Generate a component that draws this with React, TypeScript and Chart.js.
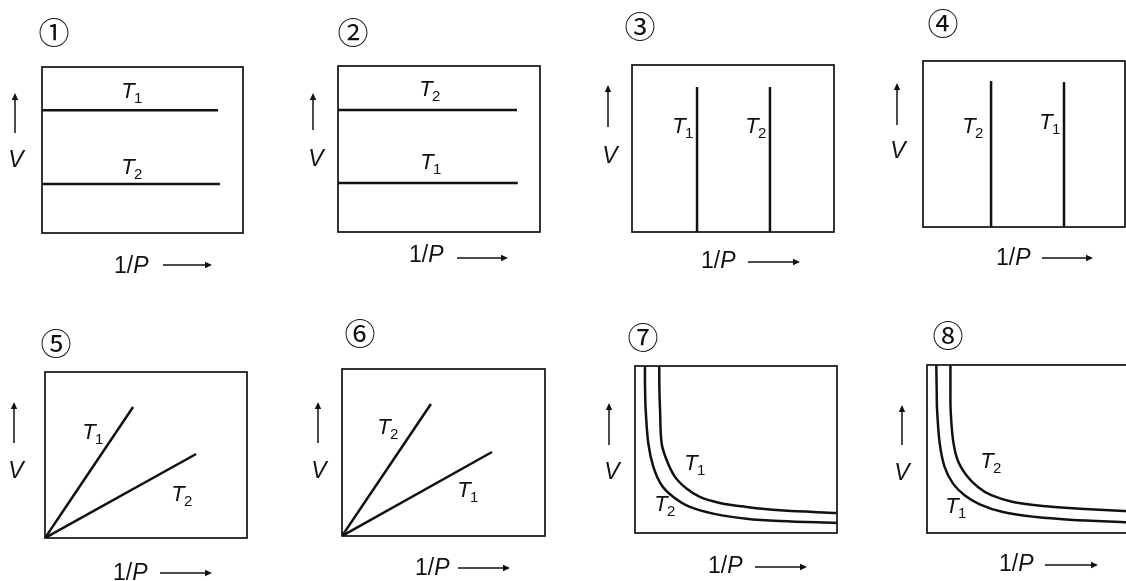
import React, { useEffect, useRef } from "react";
import { Chart, registerables } from "chart.js";

Chart.register(...registerables);

// ---------------- DATA ----------------
const panelMarks = ["①", "②", "③", "④", "⑤", "⑥", "⑦", "⑧"];
const xAxisLabel = "1/P";
const yAxisLabel = "V";

// ① horizontal lines
const p1T1X = [0, 87.6];
const p1T1V = [74, 74];
const p1T2X = [0, 88.5];
const p1T2V = [29.5, 29.5];
// ② horizontal lines (swapped)
const p2T2X = [0, 88.6];
const p2T2V = [73.5, 73.5];
const p2T1X = [0, 89];
const p2T1V = [29.5, 29.5];
// ③ vertical lines
const p3T1X = [32.2, 32.2];
const p3T1V = [0, 86.8];
const p3T2X = [68.3, 68.3];
const p3T2V = [0, 86.8];
// ④ vertical lines (swapped)
const p4T2X = [33.7, 33.7];
const p4T2V = [0, 87.9];
const p4T1X = [69.8, 69.8];
const p4T1V = [0, 87.3];
// ⑤ straight lines through origin
const p5T1X = [0, 43.6];
const p5T1V = [0, 78.9];
const p5T2X = [0, 74.8];
const p5T2V = [0, 50.6];
// ⑥ straight lines through origin (swapped)
const p6T2X = [0, 43.8];
const p6T2V = [0, 79];
const p6T1X = [0, 73.9];
const p6T1V = [0, 50.3];
// ⑦ hyperbola-like curves
const p7T1X = [12.0, 12.1, 12.4, 13.2, 15.7, 19.8, 25.5, 32.1, 42.0, 55.2, 71.7, 100];
const p7T1V = [100, 85, 73.6, 53.6, 43.6, 33.6, 26.6, 21.6, 18.0, 15.6, 13.6, 12.0];
const p7T2X = [4.9, 5.0, 5.3, 6.6, 9.1, 13.2, 19.0, 27.2, 38.7, 55.2, 71.7, 100];
const p7T2V = [100, 85, 73.6, 53.6, 39.6, 28.6, 21.6, 15.6, 11.6, 8.6, 7.2, 6.0];
// ⑧ hyperbola-like curves (swapped)
const p8T1X = [4.6, 4.8, 5.0, 6.3, 8.7, 12.9, 18.6, 26.1, 37.6, 54.1, 70.6, 100];
const p8T1V = [100, 85, 73.2, 53.3, 39.4, 29.4, 22.5, 17.1, 12.5, 9.5, 7.95, 6.4];
const p8T2X = [11.6, 11.6, 11.7, 12.9, 15.2, 19.5, 25.2, 31.8, 42.6, 59.1, 75.6, 100];
const p8T2V = [100, 85, 73.2, 55.3, 43.3, 34.4, 27.4, 22.5, 18.5, 15.9, 14.5, 12.9];

// ---------------- LAYOUT ----------------
const PAGE_W = 1140;
const PAGE_H = 581;

type Series = { name: string; xs: number[]; ys: number[] };
type Panel = {
  box: [number, number, number, number];
  series: Series[];
  tension: number;
  tLabels: { sub: string; x: number; y: number }[];
  mark: [number, number];
  v: [number, number];
  vArrow: [number, number, number];
  p: [number, number];
  pArrow: [number, number, number];
};

const panels: Panel[] = [
  {
    box: [42, 67, 243, 233],
    series: [
      { name: "T1", xs: p1T1X, ys: p1T1V },
      { name: "T2", xs: p1T2X, ys: p1T2V },
    ],
    tension: 0,
    tLabels: [
      { sub: "1", x: 128, y: 92 },
      { sub: "2", x: 128, y: 168 },
    ],
    mark: [54, 32],
    v: [16, 161],
    vArrow: [15, 133, 93],
    p: [114, 267],
    pArrow: [163, 212, 265],
  },
  {
    box: [338, 66, 540, 232],
    series: [
      { name: "T2", xs: p2T2X, ys: p2T2V },
      { name: "T1", xs: p2T1X, ys: p2T1V },
    ],
    tension: 0,
    tLabels: [
      { sub: "2", x: 426, y: 90 },
      { sub: "1", x: 427, y: 163 },
    ],
    mark: [353, 32],
    v: [316, 160],
    vArrow: [313, 130, 93],
    p: [409, 256],
    pArrow: [457, 508, 258],
  },
  {
    box: [632, 65, 834, 232],
    series: [
      { name: "T1", xs: p3T1X, ys: p3T1V },
      { name: "T2", xs: p3T2X, ys: p3T2V },
    ],
    tension: 0,
    tLabels: [
      { sub: "1", x: 679, y: 127 },
      { sub: "2", x: 752, y: 127 },
    ],
    mark: [640, 26],
    v: [610, 157],
    vArrow: [608, 127, 85],
    p: [701, 262],
    pArrow: [748, 800, 262],
  },
  {
    box: [923, 61, 1125, 227],
    series: [
      { name: "T2", xs: p4T2X, ys: p4T2V },
      { name: "T1", xs: p4T1X, ys: p4T1V },
    ],
    tension: 0,
    tLabels: [
      { sub: "2", x: 969, y: 127 },
      { sub: "1", x: 1046, y: 123 },
    ],
    mark: [943, 23],
    v: [898, 152],
    vArrow: [897, 125, 83],
    p: [996, 259],
    pArrow: [1042, 1093, 258],
  },
  {
    box: [45, 372, 247, 538],
    series: [
      { name: "T1", xs: p5T1X, ys: p5T1V },
      { name: "T2", xs: p5T2X, ys: p5T2V },
    ],
    tension: 0,
    tLabels: [
      { sub: "1", x: 89, y: 433 },
      { sub: "2", x: 178, y: 495 },
    ],
    mark: [56, 343],
    v: [16, 472],
    vArrow: [14, 443, 402],
    p: [113, 574],
    pArrow: [160, 212, 573],
  },
  {
    box: [342, 369, 545, 536],
    series: [
      { name: "T2", xs: p6T2X, ys: p6T2V },
      { name: "T1", xs: p6T1X, ys: p6T1V },
    ],
    tension: 0,
    tLabels: [
      { sub: "2", x: 384, y: 428 },
      { sub: "1", x: 464, y: 491 },
    ],
    mark: [360, 333],
    v: [319, 472],
    vArrow: [318, 443, 402],
    p: [415, 569],
    pArrow: [458, 510, 568],
  },
  {
    box: [635, 366, 837, 533],
    series: [
      { name: "T1", xs: p7T1X, ys: p7T1V },
      { name: "T2", xs: p7T2X, ys: p7T2V },
    ],
    tension: 0.35,
    tLabels: [
      { sub: "1", x: 691, y: 464 },
      { sub: "2", x: 661, y: 505 },
    ],
    mark: [643, 337],
    v: [612, 473],
    vArrow: [609, 445, 403],
    p: [708, 567],
    pArrow: [755, 807, 567],
  },
  {
    box: [927, 365, 1129, 533],
    series: [
      { name: "T1", xs: p8T1X, ys: p8T1V },
      { name: "T2", xs: p8T2X, ys: p8T2V },
    ],
    tension: 0.35,
    tLabels: [
      { sub: "2", x: 987, y: 462 },
      { sub: "1", x: 952, y: 507 },
    ],
    mark: [948, 335],
    v: [902, 474],
    vArrow: [902, 445, 405],
    p: [999, 565],
    pArrow: [1045, 1098, 565],
  },
];

const SANS = '"Liberation Sans", Arial, sans-serif';

function drawArrow(ctx: CanvasRenderingContext2D, x0: number, y0: number, x1: number, y1: number) {
  ctx.save();
  ctx.strokeStyle = "#111";
  ctx.fillStyle = "#111";
  ctx.lineWidth = 1.5;
  const ang = Math.atan2(y1 - y0, x1 - x0);
  const hl = 7;
  const hw = 3.2;
  ctx.beginPath();
  ctx.moveTo(x0, y0);
  ctx.lineTo(x1 - Math.cos(ang) * hl * 0.8, y1 - Math.sin(ang) * hl * 0.8);
  ctx.stroke();
  ctx.beginPath();
  ctx.moveTo(x1, y1);
  ctx.lineTo(x1 - Math.cos(ang) * hl - Math.sin(ang) * hw, y1 - Math.sin(ang) * hl + Math.cos(ang) * hw);
  ctx.lineTo(x1 - Math.cos(ang) * hl + Math.sin(ang) * hw, y1 - Math.sin(ang) * hl - Math.cos(ang) * hw);
  ctx.closePath();
  ctx.fill();
  ctx.restore();
}

function makeDecorPlugin(panel: Panel) {
  return {
    id: "decor",
    afterDatasetsDraw(chart: any) {
      const ctx: CanvasRenderingContext2D = chart.ctx;
      const a = chart.chartArea;
      ctx.save();
      // frame
      ctx.strokeStyle = "#111";
      ctx.lineWidth = 1.7;
      ctx.strokeRect(a.left, a.top, a.right - a.left, a.bottom - a.top);

      ctx.fillStyle = "#111";
      // T labels
      for (const t of panel.tLabels) {
        ctx.font = `italic 22px ${SANS}`;
        ctx.textAlign = "center";
        ctx.textBaseline = "middle";
        ctx.fillText("T", t.x, t.y);
        ctx.font = `15px ${SANS}`;
        ctx.textAlign = "left";
        ctx.fillText(t.sub, t.x + 6, t.y + 7);
      }
      // circled panel number
      ctx.font = `31px "Noto Sans CJK JP", "DejaVu Sans", sans-serif`;
      ctx.textAlign = "center";
      ctx.textBaseline = "middle";
      const idx = panels.indexOf(panel);
      ctx.fillText(panelMarks[idx], panel.mark[0], panel.mark[1]);
      // V label
      ctx.font = `italic 23px ${SANS}`;
      ctx.fillText(yAxisLabel, panel.v[0], panel.v[1]);
      drawArrow(ctx, panel.vArrow[0], panel.vArrow[1], panel.vArrow[0], panel.vArrow[2]);
      // 1/P label
      ctx.textAlign = "left";
      ctx.font = `23px ${SANS}`;
      const pre = xAxisLabel.slice(0, 2);
      ctx.fillText(pre, panel.p[0], panel.p[1]);
      const w = ctx.measureText(pre).width;
      ctx.font = `italic 23px ${SANS}`;
      ctx.fillText(xAxisLabel.slice(2), panel.p[0] + w, panel.p[1]);
      drawArrow(ctx, panel.pArrow[0], panel.pArrow[2], panel.pArrow[1], panel.pArrow[2]);
      ctx.restore();
    },
  };
}

function PanelChart({ panel }: { panel: Panel }) {
  const ref = useRef<HTMLCanvasElement | null>(null);
  useEffect(() => {
    if (!ref.current) return;
    const [l, t, r, b] = panel.box;
    const chart = new Chart(ref.current, {
      type: "line",
      data: {
        datasets: panel.series.map((s) => ({
          label: s.name,
          data: s.xs.map((x, i) => ({ x, y: s.ys[i] })),
          borderColor: "#111",
          borderWidth: 2.5,
          pointRadius: 0,
          tension: panel.tension,
          fill: false,
        })),
      },
      options: {
        responsive: false,
        animation: false,
        devicePixelRatio: 1,
        layout: { padding: { left: l, top: t, right: PAGE_W - r, bottom: PAGE_H - b } },
        plugins: { legend: { display: false }, tooltip: { enabled: false }, title: { display: false } },
        events: [],
        scales: {
          x: { type: "linear", min: 0, max: 100, display: false },
          y: { type: "linear", min: 0, max: 100, display: false },
        },
      },
      plugins: [makeDecorPlugin(panel)],
    });
    return () => chart.destroy();
  }, [panel]);
  return (
    <canvas
      ref={ref}
      width={PAGE_W}
      height={PAGE_H}
      style={{ position: "absolute", left: 0, top: 0, width: PAGE_W, height: PAGE_H }}
    />
  );
}

export default function App() {
  return (
    <div
      style={{
        position: "absolute",
        left: 0,
        top: 0,
        width: 1126,
        height: 581,
        overflow: "hidden",
        background: "#fff",
      }}
    >
      {panels.map((p, i) => (
        <PanelChart key={i} panel={p} />
      ))}
    </div>
  );
}
